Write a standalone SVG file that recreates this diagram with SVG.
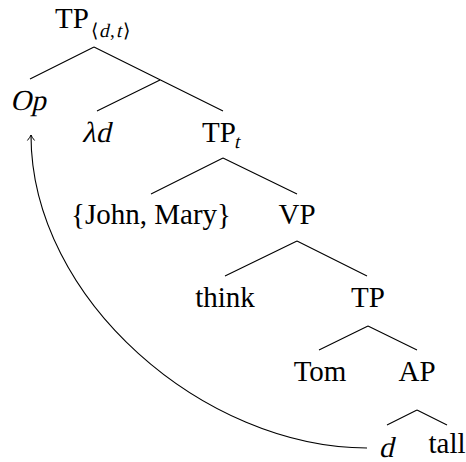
<svg xmlns="http://www.w3.org/2000/svg" width="466" height="462" viewBox="0 0 466 462">
<style>
text{font-family:"Liberation Serif","Times New Roman",serif;font-size:29px;fill:#000;text-anchor:middle}
.st{text-anchor:start}
.sub{font-size:19px;text-anchor:start}
.edge{stroke:#000;stroke-width:1.1;fill:none}
</style>
<defs>
<marker id="arr" markerUnits="userSpaceOnUse" markerWidth="12" markerHeight="12" refX="0" refY="0" viewBox="-7 -6 8 12" orient="auto">
<path d="M-5.5,-3.6 Q-1.8,-0.6 0,0 Q-1.8,0.6 -5.5,3.6" stroke="#000" stroke-width="1" fill="none"/>
</marker>
</defs>
<g id="connectors">
<path class="edge" d="M94,47 L30,79 M94,47 L223,111 M160,80 L97,111"/>
<path class="edge" d="M223,158 L151,194 M223,158 L297,194"/>
<path class="edge" d="M297,241 L225,276 M297,241 L367,276"/>
<path class="edge" d="M368,326 L319,350 M368,326 L417,350"/>
<path class="edge" d="M417,410 L387,425 M417,410 L447,425"/>
<path class="edge" d="M367,448 C205,448 31,300 31,135" marker-end="url(#arr)"/>
</g>
<g id="n-root">
<text class="st" x="55" y="28">TP</text>
<text class="sub" x="91" y="37">⟨</text>
<text class="sub" transform="translate(99,37) skewX(-13)" x="0" y="0">d</text>
<text class="sub" x="110" y="37">,</text>
<text class="sub" transform="translate(116,37) skewX(-13)" x="0" y="0">t</text>
<text class="sub" x="123" y="37">⟩</text>
</g>
<g id="n-op"><text transform="translate(28,110) skewX(-13)" x="0" y="0">Op</text></g>
<g id="n-lambda"><text transform="translate(96,142) skewX(-13)" x="0" y="0">λd</text></g>
<g id="n-tpt">
<text class="st" x="202" y="142">TP</text>
<text class="sub" transform="translate(234,148) skewX(-13)" x="0" y="0">t</text>
</g>
<g id="n-johnmary"><text x="151" y="224">{John, Mary}</text></g>
<g id="n-vp"><text x="297" y="224">VP</text></g>
<g id="n-think"><text x="225" y="307">think</text></g>
<g id="n-tp"><text x="368" y="307">TP</text></g>
<g id="n-tom"><text x="320" y="381">Tom</text></g>
<g id="n-ap"><text x="417" y="381">AP</text></g>
<g id="n-d"><text transform="translate(386,457) skewX(-13)" x="0" y="0">d</text></g>
<g id="n-tall"><text x="447" y="453">tall</text></g>
</svg>
